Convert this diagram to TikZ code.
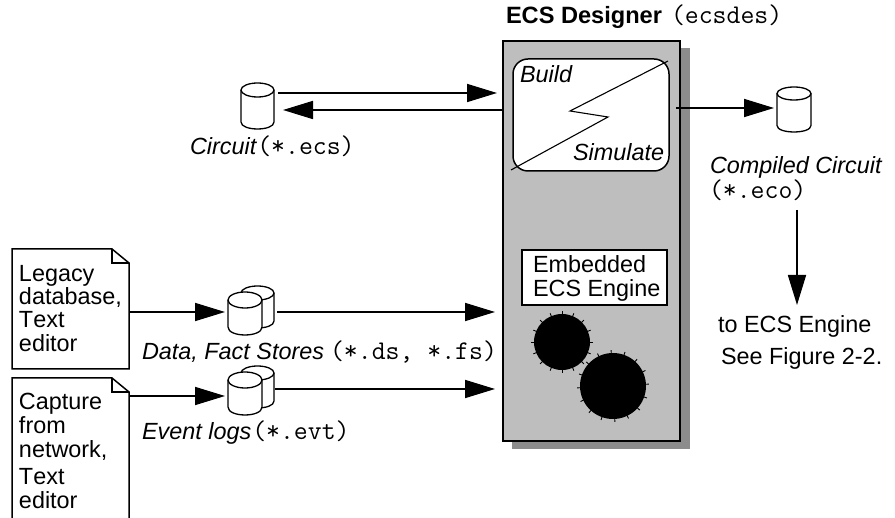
\documentclass[tikz,border=0pt]{standalone}
\usepackage{fontspec}
\setmainfont{Liberation Sans}[Kerning=Off]
\usetikzlibrary{arrows.meta,calc}
\definecolor{panelgrey}{HTML}{BEBEBE}
\definecolor{shadowgrey}{HTML}{8C8C8C}
\newcommand{\lbl}{\fontsize{23.4}{24}\selectfont}
\newcommand{\mn}{\fontsize{27}{24}\selectfont\ttfamily}
\newcommand{\cylpart}[5]{%
  \draw[cyl] ({#1},{#3}) -- ({#1},{#4})
     .. controls ({#1},{#4+1.33*#5}) and ({#2},{#4+1.33*#5}) .. ({#2},{#4})
     -- ({#2},{#3});
  \draw[cyl] ({(#1+#2)/2},{#3}) ellipse [x radius={(#2-#1)/2}, y radius={#5}];
}
\tikzset{
  x=1pt,y=-1pt,
  every node/.style={inner sep=0pt,outer sep=0pt},
  cyl/.style={draw=black,fill=white,line width=1.3pt},
  doc/.style={draw=black,line width=1.5pt,line join=miter},
  conn/.style={line width=1.7pt,-{Triangle[length=30pt,width=18pt]}},
  txt/.style={anchor=base west,font=\lbl,align=left},
  anchorbox/.style={minimum width=#1,minimum height=30pt,outer sep=3pt},
  tick/.style={line width=0.9pt}
}
\begin{document}
\begin{tikzpicture}
\useasboundingbox (0,0) rectangle (895,518);
% main panel
\fill[shadowgrey] (512,48) rectangle (690,449);
\node[draw=black,fill=panelgrey,line width=1.8pt,minimum width=177pt,minimum height=400pt] (panel) at (591.5,241) {};
\node[txt,font=\fontsize{23.6}{24}\selectfont\bfseries] (title) at (506,24) {ECS Designer};
\node[txt,font=\mn] (titlemono) at (671,24) {(ecsdes)};
% build / simulate
\node[draw=black,fill=white,line width=1.5pt,rounded corners=15pt,minimum width=156pt,minimum height=112pt] (build) at (591,115) {};
\draw[line width=1.1pt] (668,61) -- (570,111) -- (608,117) -- (511,170);
\node[txt,font=\lbl\itshape] (buildtxt) at (520,83) {Build};
\node[txt,font=\lbl\itshape] (simtxt) at (573,161) {Simulate};
% engine
\node[draw=black,fill=white,line width=1.5pt,minimum width=145pt,minimum height=55pt] (engine) at (594.5,277.5) {};
\node[txt] (enginetxt) at (533,273) {Embedded};
\node[txt] (enginetxtb) at (533,297) {ECS Engine};
% gears
\node[circle,fill=black,minimum size=56pt] (gearA) at (562,342) {};
\node[circle,fill=black,minimum size=66pt] (gearB) at (613,386) {};
\foreach \a in {0,22.5,...,337.5}{
  \draw[tick] ([shift={(\a:27pt)}]gearA.center) -- ([shift={(\a:31pt)}]gearA.center);
  \draw[tick] ([shift={(\a+3:32pt)}]gearB.center) -- ([shift={(\a+3:36pt)}]gearB.center);
}
% documents
\draw[doc] (12,249) -- (112,249) -- (129,263) -- (129,369) -- (12,369) -- cycle;
\draw[doc] (112,249) -- (112,263) -- (129,263);
\draw[doc] (12,518) -- (12,378) -- (112,378) -- (129,392) -- (129,518);
\draw[doc] (112,378) -- (112,392) -- (129,392);
\node[minimum width=117pt,minimum height=120pt] (docA) at (70.5,309) {};
\node[minimum width=117pt,minimum height=140pt] (docB) at (70.5,448) {};
\node[txt] (la) at (19,282) {Legacy};
\node[txt] (lb) at (19,305) {database,};
\node[txt] (lc) at (19,328) {Text};
\node[txt] (ld) at (19,352) {editor};
\node[txt] (ca) at (19,410) {Capture};
\node[txt] (cb) at (19,434) {from};
\node[txt] (cc) at (19,458) {network,};
\node[txt] (cd) at (19,485) {Text};
\node[txt] (ce) at (19,509) {editor};
% cylinders
\cylpart{241}{274}{90}{122}{7}
\cylpart{777}{811}{93.5}{125.5}{6.5}
\cylpart{241}{274}{293}{321}{7}
\cylpart{228}{262}{300}{327}{8}
\cylpart{241}{274}{373}{401}{7}
\cylpart{228}{262}{380}{407}{8}
\node[anchorbox=46pt] (dsc) at (251,312) {};
\node[anchorbox=46pt] (evc) at (251,396) {};
\node[anchorbox=34pt] (cir) at (794,108) {};
\node[anchorbox=33pt] (ecs) at (257.5,106) {};
% connector ends
\coordinate (cirOut) at (278,93);
\coordinate (cirIn) at (283,110);
\coordinate (panelOut) at (676,108);
\coordinate (evcOut) at (275,389);
\coordinate (downFrom) at (797,210);
\coordinate (downTo) at (797,305);
% connectors
\draw[conn] (cirOut) -- (cirOut -| panel.west) [shorten >=6pt];
\draw[conn] (panel.west |- cirIn) -- (cirIn);
\draw[conn] (panelOut) -- (cir.west);
\draw[conn] (docA.east |- dsc.west) -- (dsc.west);
\draw[conn] (docB.east |- evc.west) -- (evc.west);
\draw[conn,shorten >=8pt] (dsc.east) -- (dsc.east -| panel.west);
\draw[conn,shorten >=8pt] (evcOut) -- (evcOut -| panel.west);
\draw[conn] (downFrom) -- (downTo);
% labels
\node[txt,font=\lbl\itshape] (circuitl) at (190,155) {Circuit\hspace{1pt}{\upshape\mn(*.ecs)}};
\node[txt,font=\lbl\itshape] (compl) at (710,174) {Compiled Circuit};
\node[txt,font=\mn] (compm) at (709,199) {(*.eco)};
\node[txt,font=\lbl\itshape] (dfl) at (142,360) {Data, Fact Stores\hspace{6pt}{\upshape\mn(*.ds, *.fs)}};
\node[txt,font=\lbl\itshape] (evl) at (142,440) {Event logs\hspace{1pt}{\upshape\mn(*.evt)}};
\node[txt] (toa) at (718,333) {to ECS Engine};
\node[txt] (tob) at (721,365) {See Figure 2-2.};
\end{tikzpicture}
\end{document}
